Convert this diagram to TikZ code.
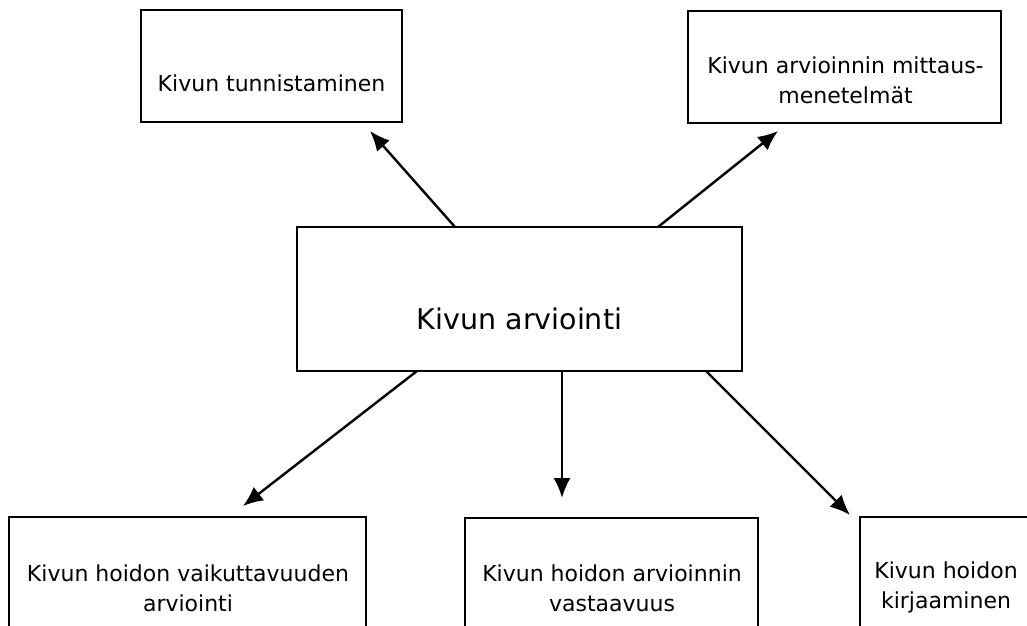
\documentclass[tikz,border=0pt]{standalone}
\usepackage{fontspec}
\setmainfont{DejaVu Sans}
\usetikzlibrary{arrows.meta}

\begin{document}
\begin{tikzpicture}[x=1pt,y=-1pt,
    box/.style={draw,line width=2.4pt,rectangle,inner sep=0pt,outer sep=0pt},
    txt/.style={align=center,font=\fontsize{22}{30}\selectfont},
    bigtxt/.style={font=\fontsize{28.5}{34}\selectfont},
    arr/.style={line width=2.4pt,-{Latex[length=20pt,width=17pt]}}]
                \useasboundingbox (0,0) rectangle (1027,625);

                % top row
                \node[box,minimum width=261pt,minimum height=112pt] (tunn) at (271.5,66) {};
                \node[txt] (tunnT) at (271.5,83) {Kivun tunnistaminen};

                \node[box,minimum width=313pt,minimum height=112pt] (mitt) at (844.5,67) {};
                \node[txt] (mittT) at (845.5,80) {Kivun arvioinnin mittaus-\\menetelmät};

                % middle
                \node[box,minimum width=445pt,minimum height=144pt] (arvi) at (519.5,299) {};
                \node[bigtxt] (arviT) at (519.5,319) {Kivun arviointi};

                % bottom row
                \node[box,minimum width=357pt,minimum height=143pt] (vaik) at (187.5,588.5) {};
                \node[txt] (vaikT) at (188,588) {Kivun hoidon vaikuttavuuden\\arviointi};

                \node[box,minimum width=293pt,minimum height=142pt] (vast) at (611.5,589) {};
                \node[txt] (vastT) at (612,588) {Kivun hoidon arvioinnin\\vastaavuus};

                \node[box,minimum width=172pt,minimum height=142pt] (kirj) at (946,588) {};
                \node[txt] (kirjT) at (946,587) {Kivun hoidon\\kirjaaminen};

                % arrow ends
                \coordinate (tipA) at (370,131);
                \coordinate (tipB) at (778,131);
                \coordinate (tipC) at (243,506);
                \coordinate (tipD) at (562,498);
                \coordinate (tipE) at (850,515);

                \draw[arr] ([xshift=158pt]arvi.north west) -- (tipA);
                \draw[arr] ([xshift=361pt]arvi.north west) -- (tipB);
                \draw[arr] ([xshift=120pt]arvi.south west) -- (tipC);
                \draw[arr] ([xshift=265pt]arvi.south west) -- (tipD);
                \draw[arr] ([xshift=409pt]arvi.south west) -- (tipE);
            \end{tikzpicture}
\end{document}
